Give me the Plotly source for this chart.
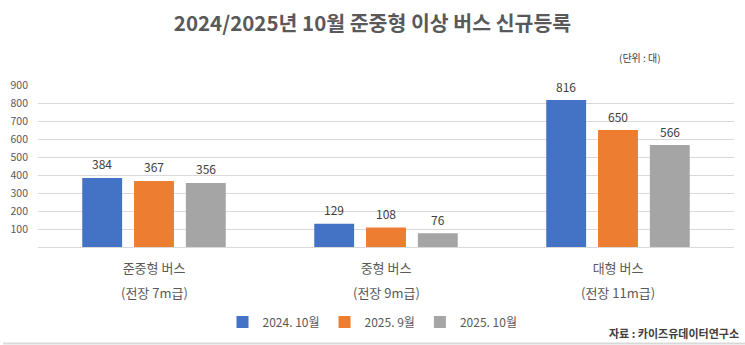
import plotly.graph_objects as go

# Bus registrations by class (units)
categories = ["준중형 버스", "중형 버스", "대형 버스"]
subtitles = ["(전장 7m급)", "(전장 9m급)", "(전장 11m급)"]
series_names = ["2024. 10월", "2025. 9월", "2025. 10월"]
oct_2024 = [384, 129, 816]
sep_2025 = [367, 108, 650]
oct_2025 = [356, 76, 566]
y_ticks = [100, 200, 300, 400, 500, 600, 700, 800, 900]

colors = ["#4472C4", "#ED7D31", "#A5A5A5"]
FONT = "Noto Sans CJK KR"

W, H = 745, 345
ML, MR, MT, MB = 35, 11, 85, 98
PW, PH = W - ML - MR, H - MT - MB
BARGAP, GROUPGAP = 0.33, 0.23
SLOT = PW / len(categories) * (1 - BARGAP) / 3  # px per bar slot in a group


def px_x(x):
    return (x - ML) / PW


def px_y(y):
    return (H - MB - y) / PH


fig = go.Figure()
all_series = [oct_2024, sep_2025, oct_2025]
for i, (name, vals, col) in enumerate(zip(series_names, all_series, colors)):
    fig.add_trace(go.Bar(
        x=categories, y=vals, name=name,
        marker=dict(color=col, line=dict(width=0)),
    ))
    # value labels above each bar
    for cat, v in zip(categories, vals):
        fig.add_annotation(x=cat, xref="x", y=v, yref="y",
                           xshift=(i - 1) * SLOT, yshift=14, yanchor="middle",
                           text=str(v), showarrow=False,
                           font=dict(family=FONT, size=12, color="#404040"))

# second line of each category label
for cat, sub in zip(categories, subtitles):
    fig.add_annotation(x=cat, xref="x", y=0, yref="y", yshift=-45, yanchor="middle",
                       text=sub, showarrow=False,
                       font=dict(family=FONT, size=13, color="#595959"))

fig.add_annotation(text="(단위 : 대)", xref="paper", yref="paper", x=px_x(640), y=px_y(58),
                   xanchor="center", yanchor="middle",
                   showarrow=False, font=dict(family=FONT, size=10, color="#404040"))
fig.add_annotation(text="<b>자료 : 카이즈유데이터연구소</b>", xref="paper", yref="paper",
                   x=px_x(741), y=px_y(333), xanchor="right", yanchor="middle",
                   showarrow=False, font=dict(family=FONT, size=11, color="#404040"))

# bottom border
fig.add_shape(type="line", xref="paper", yref="paper", x0=px_x(0), x1=px_x(W),
              y0=px_y(343.5), y1=px_y(343.5), line=dict(color="#D9D9D9", width=2))

fig.update_layout(
    width=W, height=H,
    margin=dict(l=ML, r=MR, t=MT, b=MB),
    paper_bgcolor="white", plot_bgcolor="white",
    barmode="group", bargap=BARGAP, bargroupgap=GROUPGAP,
    font=dict(family=FONT, color="#595959"),
    title=dict(text="<b>2024/2025년 10월 준중형 이상 버스 신규등록</b>",
               x=0.5, xref="container", y=1 - 24 / H, yref="container",
               xanchor="center", yanchor="middle",
               font=dict(family=FONT, size=20.5, color="#595959")),
    legend=dict(orientation="h", x=0.5, xref="container", xanchor="center",
                y=1 - 322 / H, yref="container", yanchor="middle",
                font=dict(family=FONT, size=12, color="#595959"),
                itemwidth=30, tracegroupgap=0),
    xaxis=dict(showgrid=False, showline=False, ticks="", ticklabelstandoff=12,
               tickfont=dict(family=FONT, size=13, color="#595959")),
    yaxis=dict(range=[0, 900], tickvals=y_ticks, showgrid=True, gridcolor="#D9D9D9",
               gridwidth=1, zeroline=True, zerolinecolor="#D9D9D9", zerolinewidth=1,
               showline=False, ticks="", ticklabelstandoff=9,
               tickfont=dict(family=FONT, size=10.5, color="#595959")),
)

fig.write_html("out.html")
